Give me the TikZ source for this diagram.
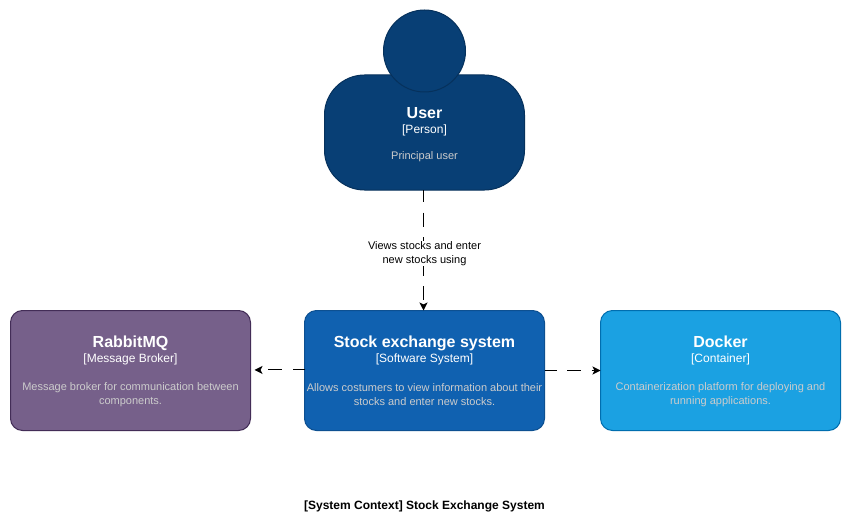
\documentclass[tikz,border=0pt]{standalone}
\usepackage{fontspec}
\setmainfont{Liberation Sans}
\usetikzlibrary{arrows.meta}
\definecolor{userblue}{HTML}{083F75}
\definecolor{userline}{HTML}{06315C}
\definecolor{sysblue}{HTML}{1061B0}
\definecolor{sysline}{HTML}{0D5091}
\definecolor{rabbit}{HTML}{76608A}
\definecolor{rabbitline}{HTML}{432D57}
\definecolor{dockblue}{HTML}{1BA1E2}
\definecolor{dockline}{HTML}{006EAF}
\definecolor{subtext}{HTML}{CCCCCC}
\tikzset{
 x=0.75pt,y=-0.75pt,
 card/.style={rounded corners=9pt,line width=0.75pt,minimum width=180pt,minimum height=90pt,anchor=north west,inner sep=0pt,outer sep=0pt},
 title/.style={font=\fontsize{12}{14}\selectfont\bfseries,text=white,anchor=base,inner sep=0pt},
 kind/.style={font=\fontsize{9}{10}\selectfont,text=white,anchor=base,inner sep=0pt},
 descr/.style={font=\fontsize{8.25}{10.5}\selectfont,text=subtext,align=center,anchor=center,inner sep=0pt},
 link/.style={draw=black,line width=0.75pt,dash pattern=on 10.5pt off 7.9pt,-{Stealth[length=6pt,width=6pt,inset=1.5pt]}}
}
\begin{document}
\begin{tikzpicture}
\useasboundingbox (0,0) rectangle (852,531);
\fill[white] (0,0) rectangle (852,531);
\node[draw=userline,fill=userblue,line width=0.75pt,rounded corners=30pt,anchor=north west,inner sep=0pt,outer sep=0pt,minimum width=150pt,minimum height=86.25pt] (user) at (324.5,75) {};
\node[circle,draw=userline,fill=userblue,line width=0.75pt,inner sep=0pt,minimum size=61.5pt] (head) at (424.5,51) {};
\node[title] (usert) at (424.5,119) {User};
\node[kind] (userk) at (424.5,133) {[Person]};
\node[descr,anchor=base] (userd) at (424.5,160) {Principal user};
\node[card,draw=sysline,fill=sysblue] (sys) at (304.5,310.5) {};
\node[title] (syst) at (424.5,347) {Stock exchange system};
\node[kind] (sysk) at (424.5,362) {[Software System]};
\node[descr] (sysd) at (424.5,394.5) {Allows costumers to view information about their\\stocks and enter new stocks.};
\node[card,draw=rabbitline,fill=rabbit] (rabbitbox) at (10.5,310.5) {};
\node[title] (rabbitt) at (130.5,347) {RabbitMQ};
\node[kind] (rabbitk) at (130.5,362) {[Message Broker]};
\node[descr] (rabbitd) at (130.5,394.5) {Message broker for communication between\\components.};
\node[card,draw=dockline,fill=dockblue] (dock) at (600.5,310.5) {};
\node[title] (dockt) at (720.5,347) {Docker};
\node[kind] (dockk) at (720.5,362) {[Container]};
\node[descr] (dockd) at (720.5,394.5) {Containerization platform for deploying and\\running applications.};
\draw[link,dash phase=1.5pt] ([xshift=-0.75pt]user.south) -- ([xshift=-0.75pt]sys.north);
\node[fill=white,inner sep=0pt,align=center,font=\fontsize{8.25}{10.5}\selectfont] (lab) at (424.5,253.5) {Views stocks and enter\\new stocks using};
\draw[link,shorten >=3pt,dash phase=1.5pt] ([yshift=0.4pt]sys.west) -- ([yshift=0.4pt]rabbitbox.east);
\draw[link,dash phase=1.5pt] (sys.east) -- (dock.west);
\node[font=\fontsize{9}{10}\selectfont\bfseries,inner sep=0pt,anchor=base] (cap) at (424.5,509) {[System Context] Stock Exchange System};
\end{tikzpicture}
\end{document}
